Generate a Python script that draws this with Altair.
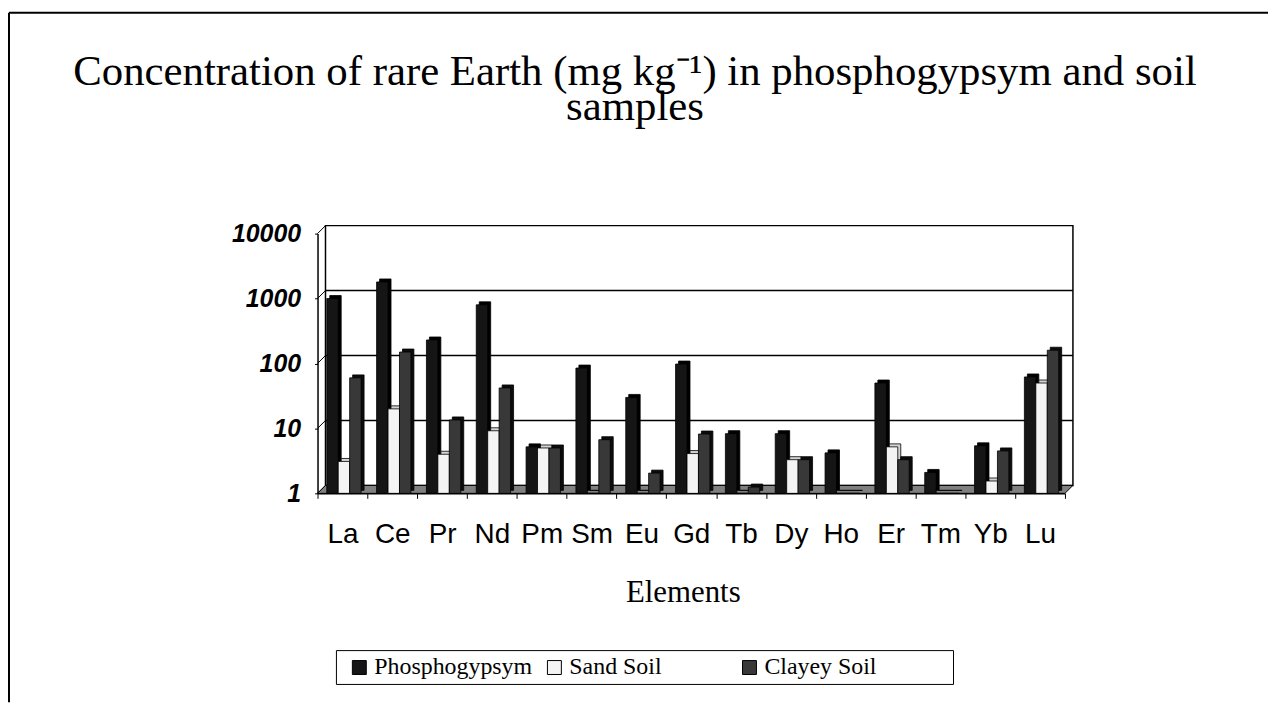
import altair as alt
import pandas as pd

# ---------------- data ----------------
elements = ["La", "Ce", "Pr", "Nd", "Pm", "Sm", "Eu", "Gd", "Tb", "Dy", "Ho", "Er", "Tm", "Yb", "Lu"]
phosphogypsym = [1000, 1800, 230, 800, 5.2, 85, 30, 98, 8.3, 8.3, 4.2, 50, 2.1, 5.4, 62]
sand_soil = [3.1, 20, 4.0, 9.2, 5.0, 1, 1, 4.1, 1, 3.3, 1, 5.2, 1, 1.55, 50]
clayey_soil = [60, 150, 13.5, 42, 5.0, 6.7, 2.05, 8.2, 1.25, 3.3, 1, 3.3, 1, 4.5, 160]
series_names = ["Phosphogypsym", "Sand Soil", "Clayey Soil"]
y_ticks = [1, 10, 100, 1000, 10000]
grid_values = [10, 100, 1000]
baseline_value = 1

rows = []
for name, vals in zip(series_names, [phosphogypsym, sand_soil, clayey_soil]):
    for el, v in zip(elements, vals):
        rows.append({"Element": el, "Series": name, "Value": v, "Base": baseline_value})
df = pd.DataFrame(rows)
one = pd.DataFrame({"k": [0]})
grid_df = pd.DataFrame({"Value": grid_values})
tick_df = pd.DataFrame({"Value": y_ticks})

# ---------------- layout constants ----------------
W, H = 751, 261
D = 8          # depth of the 3-D walls
BD = 3         # depth of each bar
BAR = 11.5
offsets = {"Phosphogypsym": -10, "Sand Soil": 1.5, "Clayey Soil": 13}
fills = ["#151515", "#f4f4f4", "#383838"]
shadow_fills = {"Phosphogypsym": "#000000", "Sand Soil": "#d4d4d4", "Clayey Soil": "#0c0c0c"}
SANS = "Liberation Sans"
SERIF = "Liberation Serif"

y_scale = alt.Scale(type="log", domain=[1, 10000], nice=False)
x_scale = alt.Scale(domain=elements, paddingInner=0, paddingOuter=0)

x_axis = alt.Axis(
    title="Elements", labelAngle=0, tickBand="extent", tickSize=5, tickColor="black",
    domainColor="black", domainWidth=1.5, labelFont=SANS, labelFontSize=28,
    labelColor="black", labelBaseline="alphabetic", labelPadding=44,
    titleFont=SERIF, titleFontSize=31, titleFontWeight="normal", titleColor="black",
    titleX=367, titleY=109, titleBaseline="alphabetic", titleAlign="center", zindex=1,
)
y_axis = alt.Axis(
    values=y_ticks, format="d", grid=False, title=None, domainColor="black", domainWidth=1.5,
    tickColor="black", tickSize=3, labelFont=SANS, labelFontSize=25, labelFontWeight="bold",
    labelFontStyle="italic", labelColor="black", labelPadding=14, zindex=1,
)

X = alt.X("Element:N", scale=x_scale, axis=x_axis, sort=elements)
Y = alt.Y("Value:Q", scale=y_scale, axis=y_axis)
Y2 = alt.Y2("Base:Q")

legend = alt.Legend(
    orient="none", legendX=30, legendY=424, direction="horizontal", title=None,
    labelFont=SERIF, labelFontSize=24, labelColor="black", symbolType="square",
    symbolSize=196, symbolStrokeColor="black", symbolStrokeWidth=1, labelOffset=3,
    columnPadding=10, gridAlign="all", padding=0, labelLimit=800,
)
color = alt.Color("Series:N", scale=alt.Scale(domain=series_names, range=fills), legend=legend)

# ---------------- decoration ----------------
frame_left = alt.Chart(one).mark_rule(color="black", strokeWidth=2).encode(
    x=alt.value(-310), y=alt.value(-222), y2=alt.value(471))
frame_top = alt.Chart(one).mark_rule(color="black", strokeWidth=2).encode(
    x=alt.value(-310), x2=alt.value(955), y=alt.value(-222))

title1 = alt.Chart(one).mark_text(font=SERIF, fontSize=43, align="center", baseline="alphabetic",
                                  color="black").encode(
    x=alt.value(319), y=alt.value(-149),
    text=alt.value("Concentration of rare Earth (mg kg\u207b\u00b9) in phosphogypsym and soil"))
title2 = alt.Chart(one).mark_text(font=SERIF, fontSize=43, align="center", baseline="alphabetic",
                                  color="black").encode(
    x=alt.value(319), y=alt.value(-114), text=alt.value("samples"))

legend_box = alt.Chart(one).mark_rect(fill="white", stroke="black", strokeWidth=1).encode(
    x=alt.value(19), x2=alt.value(639), y=alt.value(419), y2=alt.value(453))

back_wall = alt.Chart(one).mark_rect(fill="white", stroke="black", strokeWidth=1.5).encode(
    x=alt.value(D), x2=alt.value(W + D), y=alt.value(-D), y2=alt.value(H - D))

back_grid = alt.Chart(grid_df).mark_rule(color="black", strokeWidth=1.5, yOffset=-D).encode(
    y=Y, x=alt.value(D), x2=alt.value(W + D))

side_slants = alt.Chart(tick_df).mark_rule(color="black", strokeWidth=1, y2Offset=-D).encode(
    y=Y, y2=alt.Y2("Value:Q"), x=alt.value(0), x2=alt.value(D))

floor_path = f"M0,0L{W},0L{W + D},{-D}L{D},{-D}Z"
floor = alt.Chart(one).mark_point(shape=floor_path, size=4, filled=True, fill="#808080",
                                  stroke="black", strokeWidth=1, opacity=1).encode(
    x=alt.value(0), y=alt.value(H))

# ---------------- bars ----------------
bar_layers = []
for s in series_names:
    base = alt.Chart(df).transform_filter(alt.datum.Series == s)
    shadow = base.mark_bar(size=BAR, xOffset=offsets[s] + BD, yOffset=-BD, y2Offset=-BD,
                           fill=shadow_fills[s], stroke="black", strokeWidth=0.8,
                           opacity=1).encode(x=X, y=Y, y2=Y2)
    front = base.mark_bar(size=BAR, xOffset=offsets[s], stroke="black", strokeWidth=0.8,
                          opacity=1).encode(x=X, y=Y, y2=Y2, color=color)
    bar_layers += [shadow, front]

chart = alt.layer(
    frame_left, frame_top, title1, title2, legend_box, back_wall, back_grid, side_slants, floor,
    *bar_layers,
).properties(
    width=W, height=H, padding={"left": 0, "top": 2, "right": 0, "bottom": 0},
    background="white",
).configure_view(stroke=None)

chart.save("out.html", embed_options={"renderer": "svg", "actions": False})
